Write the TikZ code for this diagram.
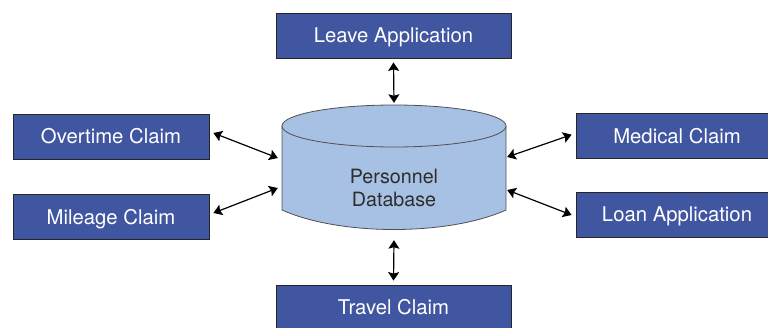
\documentclass[tikz,border=0pt]{standalone}
\usepackage{fontspec}
\setmainfont{TeX Gyre Heros}
\usetikzlibrary{arrows.meta}
\definecolor{boxblue}{RGB}{64,86,160}
\definecolor{dbblue}{RGB}{167,193,228}
\definecolor{dbedge}{RGB}{80,80,80}
\definecolor{dbtext}{RGB}{45,45,45}
\tikzset{
	module/.style={draw=black!85, line width=0.8pt, fill=boxblue, text=white,
		minimum height=45pt, inner sep=0pt, text height=14pt, text depth=0pt,
		font=\fontsize{20.3}{24}\selectfont},
	link/.style={{Stealth[length=8.5pt,width=11pt,inset=1.5pt]}-{Stealth[length=8.5pt,width=11pt,inset=1.5pt]},
		line width=1.2pt},
}
\begin{document}
\begin{tikzpicture}[x=1pt, y=-1pt]
	\useasboundingbox (0,0) rectangle (768,327);
	% the database drum
	\filldraw[fill=dbblue, draw=dbedge, line width=0.8pt]
		(282,126) -- (282,210) .. controls (340,236) and (448,236) .. (506,210) -- (506,126) -- cycle;
	\filldraw[fill=dbblue, draw=dbedge, line width=0.8pt] (394,126) ellipse [x radius=112pt, y radius=21pt];
	\node[minimum width=224pt, minimum height=82pt, inner sep=0pt, align=center, text=dbtext,
		font=\fontsize{19.7}{23.5}\selectfont] (db) at (394,188) {Personnel\\Database};
	% the modules round it
	\node[module, minimum width=235pt] (leave) at (393.5,35.5) {Leave Application};
	\node[module, minimum width=235pt] (travel) at (393.5,307.5) {Travel Claim};
	\node[module, minimum width=196pt] (overtime) at (111,136.5) {Overtime Claim};
	\node[module, minimum width=196pt] (mileage) at (111,217) {Mileage Claim};
	\node[module, minimum width=202pt] (medical) at (677,136.2) {Medical Claim};
	\node[module, minimum width=202pt] (loan) at (677,214.5) {Loan Application};
	\draw[link] ([yshift=-4pt]leave.south) -- ([yshift=44pt]db.north);
	\draw[link] ([yshift=-11pt]db.south) -- ([yshift=4pt]travel.north);
	\draw[link] ([xshift=4pt, yshift=3.5pt]overtime.east) -- ([xshift=-4pt, yshift=30pt]db.west);
	\draw[link] ([xshift=4pt, yshift=4pt]mileage.east) -- ([xshift=-4pt]db.west);
	\draw[link] ([xshift=1pt, yshift=31pt]db.east) -- ([xshift=-4pt, yshift=1.5pt]medical.west);
	\draw[link] ([xshift=1pt, yshift=-2pt]db.east) -- ([xshift=-4pt, yshift=-0.5pt]loan.west);
\end{tikzpicture}
\end{document}
